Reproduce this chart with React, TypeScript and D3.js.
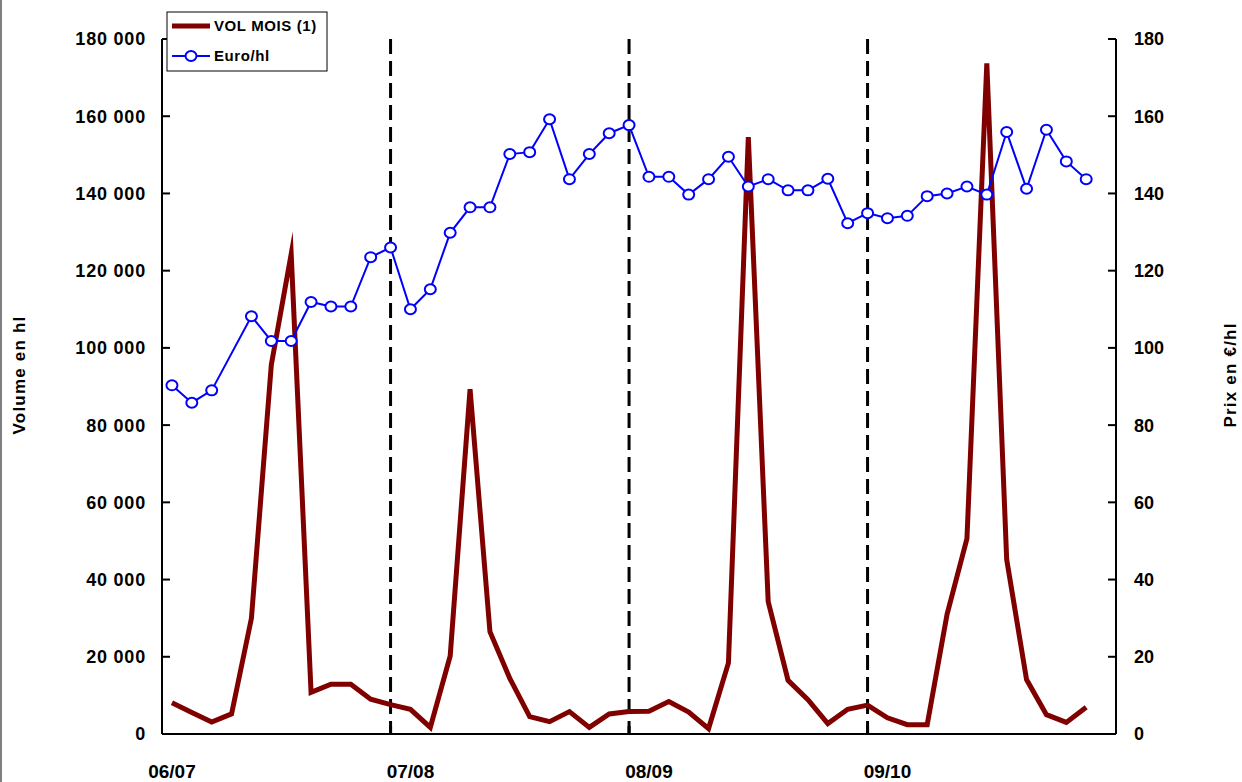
import React from "react";
import * as d3 from "d3";

const W = 1242;
const H = 782;

const seasonLabels = ["06/07", "07/08", "08/09", "09/10"];
const leftTicks = [0, 20000, 40000, 60000, 80000, 100000, 120000, 140000, 160000, 180000];
const rightTicks = [0, 20, 40, 60, 80, 100, 120, 140, 160, 180];

// monthly volume (hl), 47 months
const volume = [
  8100, 5600, 3100, 5200, 30000, 95600, 124300, 10800, 12900, 12900, 9000, 7600,
  6400, 1700, 20200, 89300, 26500, 14400, 4500, 3200, 5800, 1700, 5200, 5800,
  5900, 8400, 5700, 1400, 18400, 154600, 34300, 13900, 8900, 2700, 6400, 7500,
  4200, 2400, 2400, 31000, 50600, 173700, 45200, 14100, 5000, 3000, 6900,
];

// monthly price (€/hl); null = no value
const price: (number | null)[] = [
  90.3, 85.8, 89.0, null, 108.2, 101.8, 101.8, 111.9, 110.7, 110.7, 123.5, 126.0,
  110.0, 115.2, 129.8, 136.4, 136.4, 150.2, 150.7, 159.2, 143.7, 150.2, 155.6, 157.7,
  144.3, 144.3, 139.7, 143.7, 149.5, 141.8, 143.7, 140.8, 140.8, 143.8, 132.3, 134.9,
  133.6, 134.2, 139.3, 140.0, 141.8, 139.7, 155.9, 141.2, 156.5, 148.3, 143.7,
];

const NCAT = 48;
const left = 162;
const right = 1116;
const top = 39;
const bottom = 734;

const FONT = "'Liberation Sans', Arial, sans-serif";

export default function App() {
  const band = d3
    .scaleBand<number>()
    .domain(d3.range(NCAT))
    .range([left, right])
    .padding(0);
  const cx = (i: number) => (band(i) as number) + band.bandwidth() / 2;
  const yL = d3.scaleLinear().domain([0, 180000]).range([bottom, top]);
  const yR = d3.scaleLinear().domain([0, 180]).range([bottom, top]);

  const volLine = d3
    .line<number>()
    .x((_, i) => cx(i))
    .y((d) => yL(d))(volume) as string;

  const pricePts = price
    .map((v, i) => ({ i, v }))
    .filter((p) => p.v !== null) as { i: number; v: number }[];
  const priceLine = d3
    .line<{ i: number; v: number }>()
    .x((d) => cx(d.i))
    .y((d) => yR(d.v))(pricePts) as string;

  const fmt = (v: number) => d3.format(",")(v).replace(/,/g, " ");

  const dividers = [11, 23, 35];
  const labelIdx = [0, 12, 24, 36];

  return (
    <svg
      width={W}
      height={H}
      style={{ position: "absolute", left: 0, top: 0, background: "#fff" }}
      fontFamily={FONT}
    >
      <rect x={0} y={0} width={W} height={H} fill="#fff" />
      <line x1={1} y1={0} x2={1} y2={H} stroke="#7f7f7f" strokeWidth={2} />

      {/* season dividers */}
      {dividers.map((i) => (
        <g key={i}>
          <line
            x1={cx(i)}
            x2={cx(i)}
            y1={top}
            y2={bottom}
            stroke="#000"
            strokeWidth={3}
            strokeDasharray="15,7"
          />
          <line x1={cx(i)} x2={cx(i)} y1={bottom - 8} y2={bottom} stroke="#000" strokeWidth={3} />
        </g>
      ))}

      {/* axes */}
      <line x1={left} x2={left} y1={top} y2={bottom} stroke="#000" strokeWidth={2} />
      <line x1={right} x2={right} y1={top} y2={bottom} stroke="#000" strokeWidth={2} />
      <line x1={left} x2={right} y1={bottom} y2={bottom} stroke="#000" strokeWidth={2} />

      {leftTicks.map((t) => (
        <g key={"l" + t}>
          <line x1={left} x2={left + 8} y1={yL(t)} y2={yL(t)} stroke="#000" strokeWidth={2} />
          <text
            x={146}
            y={yL(t)}
            dy="0.36em"
            textAnchor="end"
            fontSize={18}
            fontWeight="bold"
            letterSpacing={0.8}
          >
            {fmt(t)}
          </text>
        </g>
      ))}
      {rightTicks.map((t) => (
        <g key={"r" + t}>
          <line x1={right - 8} x2={right} y1={yR(t)} y2={yR(t)} stroke="#000" strokeWidth={2} />
          <text
            x={1134}
            y={yR(t)}
            dy="0.36em"
            textAnchor="start"
            fontSize={18}
            fontWeight="bold"
            letterSpacing={0}
          >
            {t}
          </text>
        </g>
      ))}

      {labelIdx.map((i, k) => (
        <text
          key={"x" + i}
          x={cx(i)}
          y={778}
          textAnchor="middle"
          fontSize={19}
          fontWeight="bold"
          letterSpacing={0}
        >
          {seasonLabels[k]}
        </text>
      ))}

      <text
        transform={`translate(25,375) rotate(-90)`}
        textAnchor="middle"
        fontSize={17}
        fontWeight="bold"
        letterSpacing={1.2}
      >
        Volume en hl
      </text>
      <text
        transform={`translate(1236,375) rotate(-90)`}
        textAnchor="middle"
        fontSize={17}
        fontWeight="bold"
        letterSpacing={1.2}
      >
        Prix en €/hl
      </text>

      {/* series */}
      <path d={volLine} fill="none" stroke="#800000" strokeWidth={5} strokeLinejoin="miter" strokeMiterlimit={10} />
      <path d={priceLine} fill="none" stroke="#0000ff" strokeWidth={2} />
      {pricePts.map((p) => (
        <ellipse
          key={"m" + p.i}
          cx={cx(p.i)}
          cy={yR(p.v)}
          rx={5.5}
          ry={5}
          fill="#fff"
          stroke="#0000ff"
          strokeWidth={2}
        />
      ))}

      {/* legend */}
      <rect x={167} y={12} width={160} height={59} fill="#fff" stroke="#000" strokeWidth={1} />
      <line x1={172} x2={210} y1={26} y2={26} stroke="#800000" strokeWidth={5} />
      <text x={214} y={26} dy="0.36em" fontSize={15} fontWeight="bold" letterSpacing={0.6}>
        VOL MOIS (1)
      </text>
      <line x1={172} x2={210} y1={56} y2={56} stroke="#0000ff" strokeWidth={2} />
      <ellipse cx={191} cy={56} rx={5.5} ry={5} fill="#fff" stroke="#0000ff" strokeWidth={2} />
      <text x={214} y={56} dy="0.36em" fontSize={15} fontWeight="bold" letterSpacing={0.6}>
        Euro/hl
      </text>
    </svg>
  );
}
